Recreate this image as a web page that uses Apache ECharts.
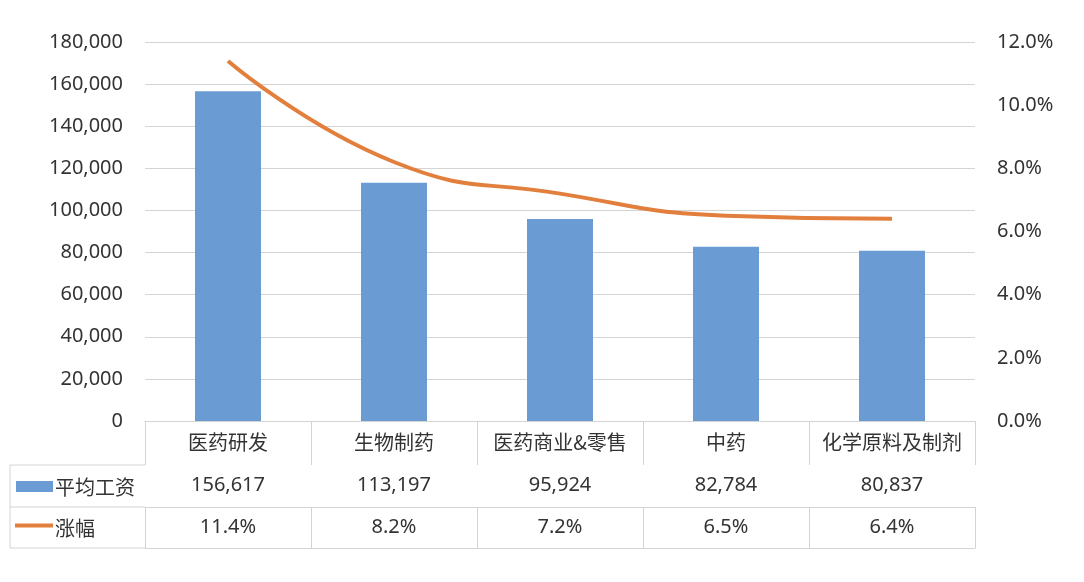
<!DOCTYPE html>
<html><head><meta charset="utf-8">
<script src="https://cdn.jsdelivr.net/npm/echarts@6/dist/echarts.min.js"></script>
<style>html,body{margin:0;padding:0;background:#fff}#c{width:1084px;height:582px}</style>
</head><body><div id="c"></div>
<script>
const categories = ['医药研发','生物制药','医药商业&零售','中药','化学原料及制剂'];
const salary = [156617, 113197, 95924, 82784, 80837];
const growth = [11.4, 8.2, 7.2, 6.5, 6.4];
const seriesNames = ['平均工资','涨幅'];
const leftAxis = {min:0, max:180000, interval:20000};
const rightAxis = {min:0, max:12, interval:2};

const fontNum = '"Noto Sans","Noto Sans CJK SC",sans-serif';
const fontCJK = '"Noto Sans CJK SC",sans-serif';
const txt = '#333333';
const border = '#d4d4d4';
const blue = '#6A9BD2';
const orange = '#E27F3D';

const salaryLabels = salary.map(v => v.toLocaleString('en-US'));
const growthLabels = growth.map(v => v.toFixed(1) + '%');

const G = {left:145, right:109, top:42, bottom:161};
const rowH = [44, 42, 41];

function tableAxis(data, offset, tickLen, showLabel, margin, fam, size) {
  return {
    type:'category', data:data, position:'bottom', offset:offset, boundaryGap:true,
    axisLine:{show:true, lineStyle:{color:border, width:1}},
    axisTick:{show:tickLen>0, interval:0, length:tickLen, lineStyle:{color:border, width:1}},
    axisLabel:{show:showLabel, interval:0, margin:margin, color:txt, fontSize:size||20, fontFamily:fam||fontNum},
    splitLine:{show:false}
  };
}

const chart = echarts.init(document.getElementById('c'), null, {renderer:'canvas'});
const top0 = 582 - G.bottom;
const y1 = top0 + rowH[0], y2 = y1 + rowH[1], y3 = y2 + rowH[2];
chart.setOption({
  backgroundColor:'#fff',
  animation:false,
  grid:{left:G.left, right:G.right, top:G.top, bottom:G.bottom},
  xAxis:[
    tableAxis(categories, 0, rowH[0], true, 11, fontCJK, 20),
    tableAxis(salaryLabels, rowH[0], rowH[1], true, 10, fontNum, 20),
    tableAxis(growthLabels, rowH[0]+rowH[1], rowH[2], true, 10, fontNum, 20),
    tableAxis(categories, rowH[0]+rowH[1]+rowH[2], 0, false, 0)
  ],
  yAxis:[
    {type:'value', min:leftAxis.min, max:leftAxis.max, interval:leftAxis.interval, position:'left',
     axisLine:{show:false}, axisTick:{show:false},
     axisLabel:{margin:22, color:txt, fontSize:20, fontFamily:fontNum,
       formatter:v => v.toLocaleString('en-US')},
     splitLine:{show:true, lineStyle:{color:border, width:1}}},
    {type:'value', min:rightAxis.min, max:rightAxis.max, interval:rightAxis.interval, position:'right',
     axisLine:{show:false}, axisTick:{show:false},
     axisLabel:{margin:22, color:txt, fontSize:20, fontFamily:fontNum,
       formatter:v => v.toFixed(1) + '%'},
     splitLine:{show:false}}
  ],
  series:[
    {name:seriesNames[0], type:'bar', data:salary, barWidth:66, xAxisIndex:0, yAxisIndex:0,
     itemStyle:{color:blue}},
    {name:seriesNames[1], type:'line', data:growth, xAxisIndex:0, yAxisIndex:1, smooth:0.5,
     showSymbol:false, symbol:'none', lineStyle:{color:orange, width:4}, z:5}
  ],
  graphic:[
    {type:'line', shape:{x1:10, y1:y1, x2:G.left, y2:y1}, style:{stroke:border, lineWidth:1}},
    {type:'line', shape:{x1:10, y1:y2, x2:G.left, y2:y2}, style:{stroke:border, lineWidth:1}},
    {type:'line', shape:{x1:10, y1:y3, x2:G.left, y2:y3}, style:{stroke:border, lineWidth:1}},
    {type:'line', shape:{x1:10, y1:y1, x2:10, y2:y3}, style:{stroke:border, lineWidth:1}},
    {type:'rect', shape:{x:16, y:(y1+y2)/2-5, width:37, height:11}, style:{fill:blue}},
    {type:'text', x:55, y:(y1+y2)/2+1, style:{text:seriesNames[0], fill:txt, font:'20px '+fontCJK, textVerticalAlign:'middle'}},
    {type:'line', shape:{x1:15, y1:(y2+y3)/2-2, x2:53, y2:(y2+y3)/2-2}, style:{stroke:orange, lineWidth:4}},
    {type:'text', x:55, y:(y2+y3)/2+1, style:{text:seriesNames[1], fill:txt, font:'20px '+fontCJK, textVerticalAlign:'middle'}}
  ]
});
</script></body></html>
